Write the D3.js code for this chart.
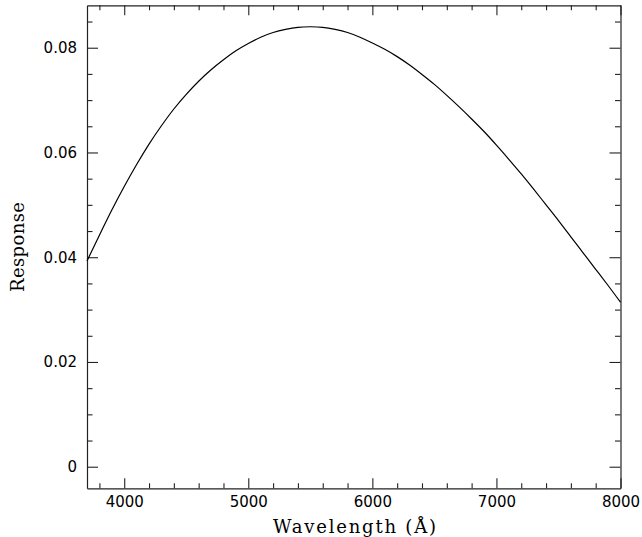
<!DOCTYPE html>
<html>
<head>
<meta charset="utf-8">
<script src="https://cdn.jsdelivr.net/npm/d3@7"></script>
<style>
  html, body { margin: 0; padding: 0; background: #fff; }
  svg { display: block; }
  .axis path { stroke: #222; stroke-width: 1.2; }
  .axis line { stroke: #222; stroke-width: 1.1; }
  .axis text { font-family: "DejaVu Sans", sans-serif; font-size: 15px; fill: #000; }
</style>
</head>
<body>
<svg id="chart" width="642" height="537"></svg>
<script>
// Response curve sampled every 100 Å
const wavelength = [3700, 3800, 3900, 4000, 4100, 4200, 4300, 4400, 4500, 4600,
  4700, 4800, 4900, 5000, 5100, 5200, 5300, 5400, 5500, 5600,
  5700, 5800, 5900, 6000, 6100, 6200, 6300, 6400, 6500, 6600,
  6700, 6800, 6900, 7000, 7100, 7200, 7300, 7400, 7500, 7600,
  7700, 7800, 7900, 8000];
const response = [0.0393, 0.0442, 0.0490, 0.0535, 0.0577, 0.0616, 0.0651, 0.0683, 0.0711, 0.0736,
  0.0758, 0.0777, 0.0794, 0.0808, 0.0820, 0.0829, 0.0835, 0.0839, 0.0840, 0.0839,
  0.0835, 0.0829, 0.0820, 0.0809, 0.0797, 0.0783, 0.0767, 0.0749, 0.0730, 0.0709,
  0.0687, 0.0664, 0.0640, 0.0614, 0.0587, 0.0559, 0.0530, 0.0500, 0.0470, 0.0439,
  0.0408, 0.0377, 0.0346, 0.0314];

const xMajorTicks = [4000, 5000, 6000, 7000, 8000];
const yMajorTicks = [0, 0.02, 0.04, 0.06, 0.08];
const xMinorTicks = d3.range(3800, 8001, 200).filter(v => v % 1000 !== 0);
const yMinorTicks = d3.range(0.005, 0.0876, 0.005).filter(v => Math.abs(v / 0.02 - Math.round(v / 0.02)) > 1e-6);

const xLabel = "Wavelength (Å)";
const yLabel = "Response";

const margin = { left: 87, right: 21.5, top: 5.3, bottom: 48.7 };
const W = 642, H = 537;
const svg = d3.select("#chart");

const x = d3.scaleLinear().domain([3700, 8000]).range([margin.left, W - margin.right]);
const y = d3.scaleLinear().domain([-0.00412, 0.0881]).range([H - margin.bottom, margin.top]);

const fmtY = d => d === 0 ? "0" : d3.format(".2f")(d);

// bottom axis: labels + inward ticks
svg.append("g").attr("class", "axis")
  .attr("transform", `translate(0,${y.range()[0]})`)
  .call(d3.axisBottom(x).tickValues(xMajorTicks).tickSizeInner(-10).tickSizeOuter(0).tickPadding(8).tickFormat(d3.format("d")));
svg.append("g").attr("class", "axis")
  .attr("transform", `translate(0,${y.range()[0]})`)
  .call(d3.axisBottom(x).tickValues(xMinorTicks).tickSizeInner(-5).tickSizeOuter(0).tickFormat(""))
  .select(".domain").remove();

// top axis: ticks only
svg.append("g").attr("class", "axis")
  .attr("transform", `translate(0,${y.range()[1]})`)
  .call(d3.axisTop(x).tickValues(xMajorTicks).tickSizeInner(-10).tickSizeOuter(0).tickFormat(""));
svg.append("g").attr("class", "axis")
  .attr("transform", `translate(0,${y.range()[1]})`)
  .call(d3.axisTop(x).tickValues(xMinorTicks).tickSizeInner(-5).tickSizeOuter(0).tickFormat(""))
  .select(".domain").remove();

// left axis: labels + inward ticks
svg.append("g").attr("class", "axis")
  .attr("transform", `translate(${x.range()[0]},0)`)
  .call(d3.axisLeft(y).tickValues(yMajorTicks).tickSizeInner(-11).tickSizeOuter(0).tickPadding(10).tickFormat(fmtY))
  .selectAll("text").attr("x", -10);
svg.append("g").attr("class", "axis")
  .attr("transform", `translate(${x.range()[0]},0)`)
  .call(d3.axisLeft(y).tickValues(yMinorTicks).tickSizeInner(-5.5).tickSizeOuter(0).tickFormat(""))
  .select(".domain").remove();

// right axis: ticks only
svg.append("g").attr("class", "axis")
  .attr("transform", `translate(${x.range()[1]},0)`)
  .call(d3.axisRight(y).tickValues(yMajorTicks).tickSizeInner(-11).tickSizeOuter(0).tickFormat(""));
svg.append("g").attr("class", "axis")
  .attr("transform", `translate(${x.range()[1]},0)`)
  .call(d3.axisRight(y).tickValues(yMinorTicks).tickSizeInner(-5.5).tickSizeOuter(0).tickFormat(""))
  .select(".domain").remove();

// response curve
const line = d3.line()
  .x((d, i) => x(wavelength[i]))
  .y(d => y(d))
  .curve(d3.curveNatural);
svg.append("path")
  .datum(response)
  .attr("d", line)
  .attr("fill", "none")
  .attr("stroke", "#000")
  .attr("stroke-width", 1.2);

// axis titles
svg.append("text")
  .attr("x", 354.5).attr("y", 533)
  .attr("text-anchor", "middle")
  .attr("font-family", "'DejaVu Serif', serif")
  .attr("font-size", 18)
  .attr("textLength", 163).attr("lengthAdjust", "spacing")
  .text(xLabel);

svg.append("text")
  .attr("transform", "translate(24,247) rotate(-90)")
  .attr("text-anchor", "middle")
  .attr("font-family", "'DejaVu Serif', serif")
  .attr("font-size", 18)
  .attr("textLength", 90).attr("lengthAdjust", "spacing")
  .text(yLabel);
</script>
</body>
</html>
